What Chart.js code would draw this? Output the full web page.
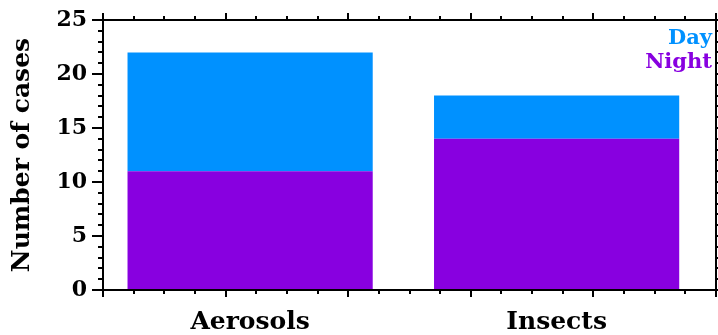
<!DOCTYPE html>
<html lang="en">
<head>
<meta charset="UTF-8">
<title>Number of cases</title>
<script src="https://cdn.jsdelivr.net/npm/chart.js"></script>
<style>
    html, body { margin: 0; padding: 0; background: #fff; }
    #wrap { width: 718px; height: 335px; }
</style>
</head>
<body>
<div id="wrap"><canvas id="chart" width="718" height="335"></canvas></div>
<script>
    const categories = ['Aerosols', 'Insects'];
    const catPos = [1.2, 3.7];
    const nightCases = [11, 14];
    const dayCases = [11, 4];
    const yTicks = [0, 5, 10, 15, 20, 25];

    const DAY = '#0091ff';
    const NIGHT = '#8800e0';
    const FONT = "'DejaVu Serif', serif";

    // box frame with major/minor ticks on all four sides + the text legend
    const framePlugin = {
        id: 'frame',
        afterDatasetsDraw(chart) {
            const { ctx, chartArea: a, scales: { x, y } } = chart;
            ctx.save();
            ctx.strokeStyle = '#000';
            ctx.lineWidth = 2;
            ctx.strokeRect(a.left, a.top, a.right - a.left, a.bottom - a.top);
            ctx.beginPath();
            for (let v = x.min; v <= x.max + 1e-6; v += 0.25) {
                const px = Math.round(x.getPixelForValue(v));
                const len = Math.abs(v - Math.round(v)) < 1e-6 ? 7 : 4;
                ctx.moveTo(px, a.bottom); ctx.lineTo(px, a.bottom + len);
                ctx.moveTo(px, a.top); ctx.lineTo(px, a.top - len);
            }
            for (let v = y.min; v <= y.max; v++) {
                const py = Math.round(y.getPixelForValue(v));
                const len = v % 5 === 0 ? 11 : 5;
                ctx.moveTo(a.left, py); ctx.lineTo(a.left - len, py);
                ctx.moveTo(a.right, py); ctx.lineTo(a.right + len, py);
            }
            ctx.stroke();

            ctx.font = 'bold 21px ' + FONT;
            ctx.textAlign = 'right';
            ctx.textBaseline = 'middle';
            const ds = chart.data.datasets;
            [1, 0].forEach((i, k) => {
                ctx.fillStyle = ds[i].backgroundColor;
                ctx.fillText(ds[i].label, a.right - 4, a.top + 19 + k * 24);
            });
            ctx.restore();
        }
    };

    new Chart(document.getElementById('chart'), {
        type: 'bar',
        data: {
            datasets: [
                {
                    label: 'Night',
                    data: catPos.map((p, i) => ({ x: p, y: nightCases[i] })),
                    backgroundColor: NIGHT
                },
                {
                    label: 'Day',
                    data: catPos.map((p, i) => ({ x: p, y: dayCases[i] })),
                    backgroundColor: DAY
                }
            ]
        },
        options: {
            responsive: false,
            animation: false,
            layout: { padding: { top: 20, right: 2, left: 0, bottom: 0 } },
            plugins: { legend: { display: false }, tooltip: { enabled: false } },
            datasets: { bar: { barPercentage: 1, categoryPercentage: 0.8 } },
            scales: {
                x: {
                    type: 'linear',
                    min: 0,
                    max: 5,
                    offset: false,
                    stacked: true,
                    grid: { display: false, drawTicks: false },
                    border: { display: false },
                    afterBuildTicks: s => { s.ticks = catPos.map(v => ({ value: v })); },
                    ticks: {
                        callback: (v, i) => categories[i],
                        font: { family: FONT, size: 25, weight: 'bold' },
                        color: '#000',
                        padding: 17,
                        maxRotation: 0,
                        autoSkip: false
                    },
                    afterFit: s => { s.height = 45; s.paddingLeft = 0; s.paddingRight = 0; }
                },
                y: {
                    min: 0,
                    max: 25,
                    stacked: true,
                    grid: { display: false, drawTicks: false },
                    border: { display: false },
                    afterBuildTicks: s => { s.ticks = yTicks.map(v => ({ value: v })); },
                    ticks: {
                        font: { family: FONT, size: 22, weight: 'bold' },
                        color: '#000',
                        padding: 16
                    },
                    title: {
                        display: true,
                        text: 'Number of cases',
                        font: { family: FONT, size: 25, weight: 'bold' },
                        color: '#000',
                        padding: { top: 7, bottom: 0 }
                    },
                    afterFit: s => { s.width = 103; s.paddingTop = 0; s.paddingBottom = 0; }
                }
            }
        },
        plugins: [framePlugin]
    });
</script>
</body>
</html>
